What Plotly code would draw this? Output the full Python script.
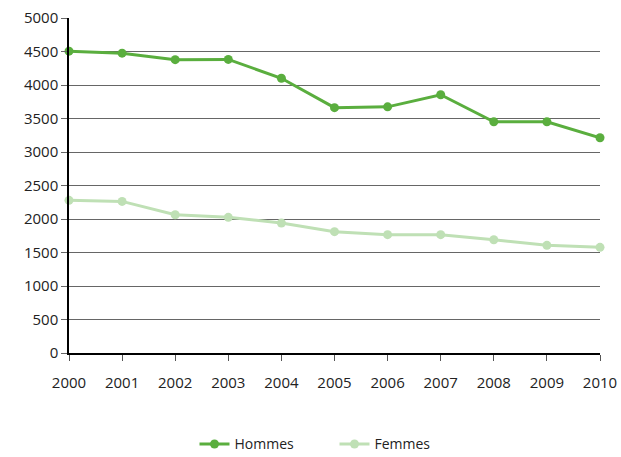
import plotly.graph_objects as go

years = [2000, 2001, 2002, 2003, 2004, 2005, 2006, 2007, 2008, 2009, 2010]
hommes = [4505, 4475, 4378, 4382, 4100, 3662, 3674, 3855, 3452, 3452, 3213]
femmes = [2278, 2263, 2064, 2025, 1940, 1811, 1766, 1766, 1691, 1607, 1577]
ytick_vals = [0, 500, 1000, 1500, 2000, 2500, 3000, 3500, 4000, 4500, 5000]

fig = go.Figure()
fig.add_trace(go.Scatter(x=years, y=hommes, name="Hommes", mode="lines+markers",
                         line=dict(color="#5aae3e", width=3), marker=dict(size=9, color="#5aae3e"),
                         cliponaxis=False))
fig.add_trace(go.Scatter(x=years, y=femmes, name="Femmes", mode="lines+markers",
                         line=dict(color="#bfe0b5", width=3), marker=dict(size=9, color="#bfe0b5"),
                         cliponaxis=False))

fig.update_layout(
    width=621, height=457,
    margin=dict(l=69, r=21, t=18, b=104, autoexpand=False),
    paper_bgcolor="white", plot_bgcolor="white",
    font=dict(family="Open Sans", size=15, color="#222"),
    showlegend=True,
    legend=dict(orientation="h", x=0.5, xanchor="center", y=-0.225, yanchor="top",
                font=dict(size=14, color="#222"), entrywidth=95, entrywidthmode="pixels",
                tracegroupgap=0),
    xaxis=dict(range=[2000, 2010], tickmode="array", tickvals=years, ticktext=[str(y) for y in years],
               showgrid=False, showline=True, linecolor="black", linewidth=1.5,
               ticks="outside", ticklen=6, tickcolor="#555", zeroline=False, ticklabelstandoff=9,
               automargin=False),
    yaxis=dict(range=[0, 5000], tickmode="array", tickvals=ytick_vals,
               showgrid=True, gridcolor="#666", gridwidth=1,
               showline=True, linecolor="black", linewidth=1.5,
               ticks="outside", ticklen=6, tickcolor="#666", zeroline=False, automargin=False),
)

fig.write_html("out.html")
